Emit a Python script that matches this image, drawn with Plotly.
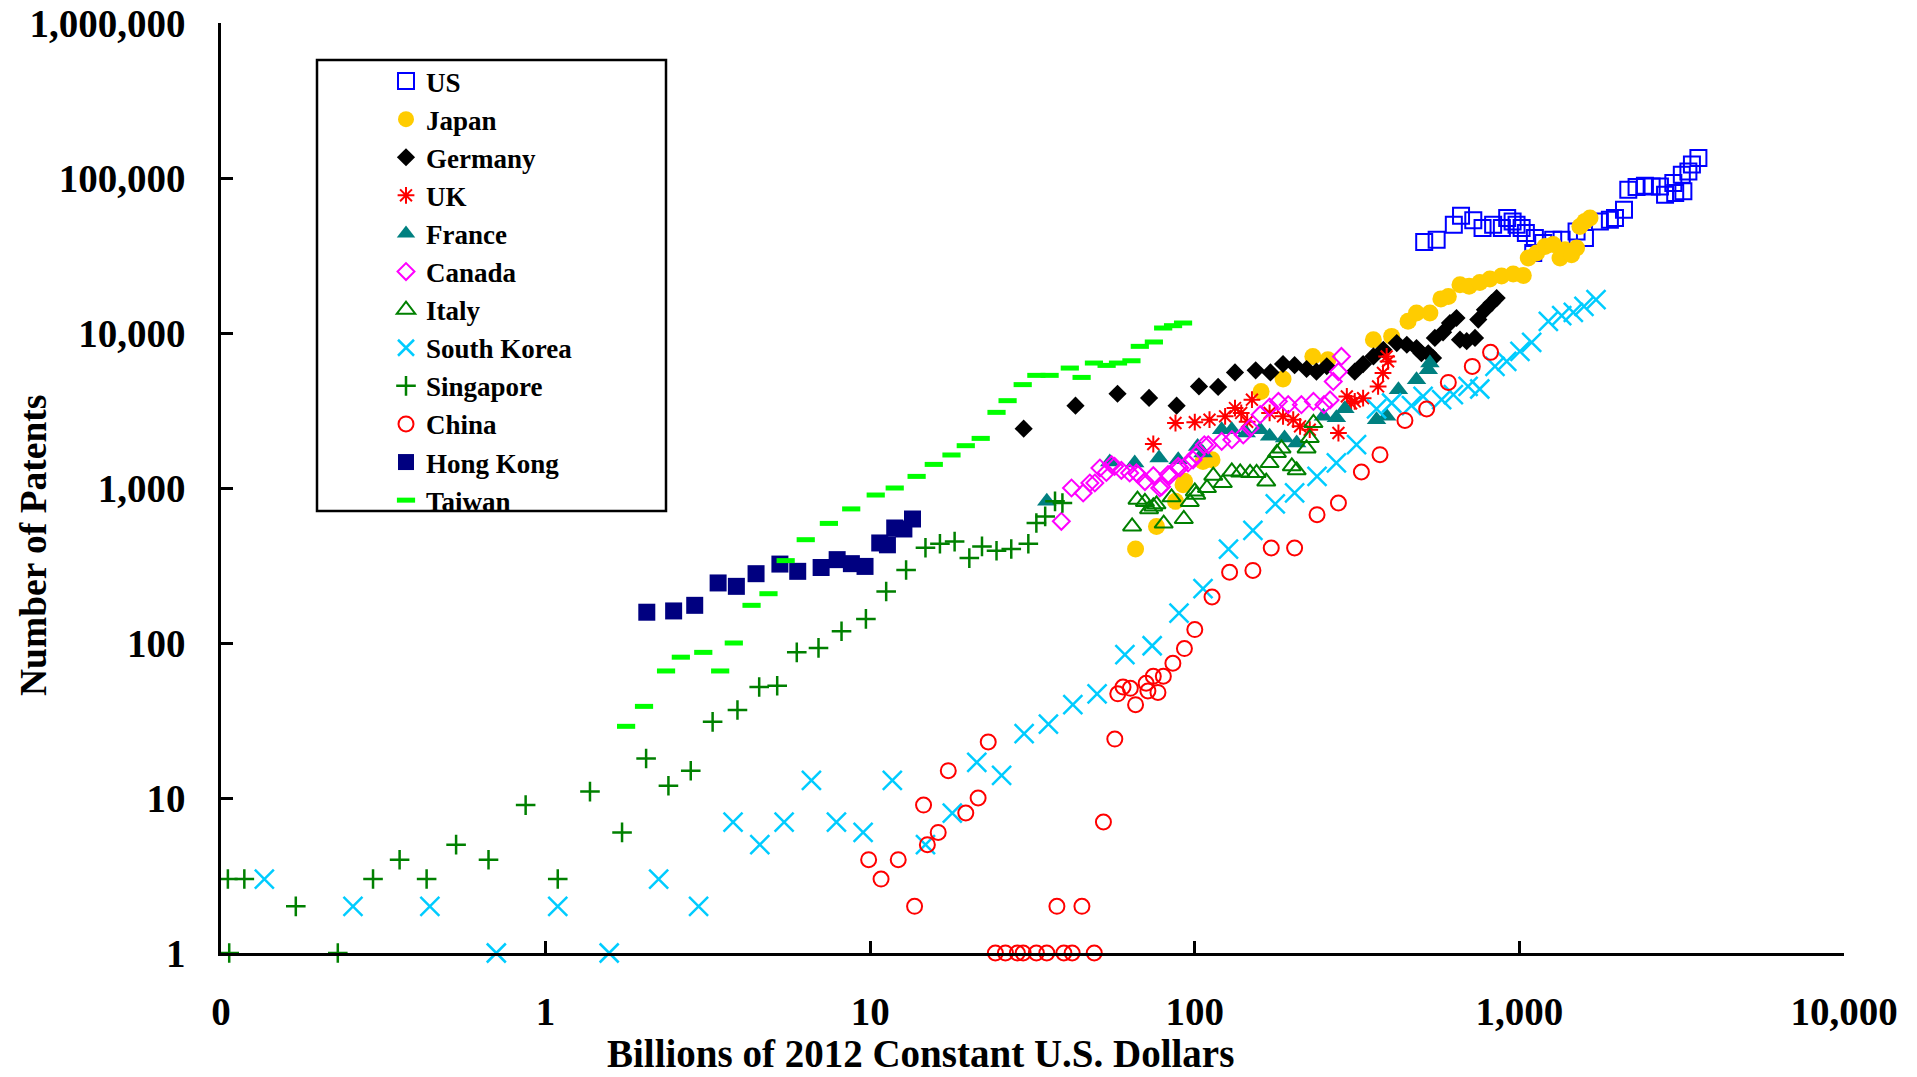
import plotly.graph_objects as go

# GDP (billions of 2012 constant U.S. dollars) and patent counts per economy
us_gdp = [509, 556, 628, 661, 721, 770, 830, 883, 917, 953, 980, 1016, 1047, 1103, 1116, 1184,
          1271, 1349, 1500, 1592, 1770, 1900, 1970, 2100, 2165, 2296, 2436, 2555, 2710, 2810,
          2980, 3020, 3200, 3165, 3316, 3400, 3560]
us_pat = [38650, 40000, 50000, 57100, 53300, 47600, 50000, 47600, 55200, 52500, 50000, 47600,
          44200, 32800, 41000, 38100, 40000, 40000, 45200, 41000, 52500, 53800, 55200, 62400,
          84100, 87500, 89200, 88000, 88000, 78000, 93000, 80000, 82000, 105000, 110000,
          122000, 134600]

japan_gdp = [65.7, 76.2, 87.2, 92, 93, 106, 113, 160, 187, 231, 257, 355, 404, 454, 482, 530,
             573, 604, 656, 700, 755, 811, 881, 957, 1028, 1065, 1130, 1199, 1271, 1334, 1381,
             1448, 1500, 1536, 1592, 1650]
japan_pat = [404, 565, 820, 1050, 1104, 1485, 1523, 4200, 5050, 7060, 6730, 9060, 9510, 11900,
             13450, 13450, 16600, 17200, 20500, 20000, 21200, 22300, 23300, 24000, 23500, 30500,
             32800, 36200, 37300, 30500, 34500, 32000, 35300, 48700, 52500, 55200]

germany_gdp = [29.7, 42.9, 57.8, 72.3, 87.9, 103, 118, 133, 154, 171, 187, 203, 221, 237, 255,
               311, 330, 355, 381, 419, 450, 482, 499, 524, 542, 549, 582, 611, 640, 656, 688,
               730, 747, 783, 821, 851]
germany_pat = [2415, 3395, 4056, 3810, 3395, 4520, 4490, 5570, 5740, 5570, 6310, 6200, 5860,
               5630, 6100, 5630, 6300, 7060, 7800, 8610, 8400, 8000, 7400, 7400, 6900, 9290,
               10100, 11600, 12500, 9060, 8860, 9290, 12200, 14100, 15600, 16800]

uk_gdp = [74.5, 87.2, 100, 111, 124, 133, 139, 145, 150, 170, 187, 201, 211, 226, 277, 294, 303,
          311, 330, 367, 380, 390, 394]
uk_pat = [1923, 2626, 2660, 2760, 2900, 3280, 3050, 2675, 3715, 3050, 2900, 2760, 2500, 2377,
          2263, 3900, 3520, 3620, 3800, 4520, 5520, 7060, 6560]

france_gdp = [35, 54.7, 65.3, 77.6, 88.9, 102, 106, 121, 130, 144, 159, 170, 189, 206, 249, 273,
              290, 363, 390, 424, 482, 524, 530]
france_pat = [820, 1470, 1450, 1560, 1520, 1855, 1683, 2377, 2377, 2263, 2377, 2160, 2100, 1950,
              2900, 2840, 3240, 2760, 2900, 4300, 5000, 5800, 6400]

canada_gdp = [38.8, 41.7, 45.3, 47.5, 49.2, 51, 53.4, 55.4, 56.6, 59.4, 63, 66.1, 66.9, 70.2,
              74.5, 78, 79, 82.7, 83.7, 88.9, 89.9, 95.3, 98.8, 101, 107, 110, 121, 130, 141,
              148, 159, 170, 181, 194, 213, 232, 250, 261, 267, 277, 283]
canada_pat = [610, 1000, 929, 1077, 1077, 1346, 1260, 1413, 1380, 1300, 1250, 1250, 1220, 1100,
              1200, 1000, 1020, 1220, 1200, 1380, 1350, 1450, 1520, 1640, 1900, 1900, 2000,
              2050, 2200, 2440, 2970, 3330, 3620, 3450, 3450, 3620, 3450, 3700, 4870, 5630, 7060]

italy_gdp = [64.1, 66.6, 70.2, 72.3, 74.5, 76.2, 80.2, 84.8, 92.5, 96.5, 100, 101, 109, 114,
             122, 130, 138, 148, 155, 166, 170, 179, 185, 199, 206, 221, 226, 232]
italy_pat = [565, 841, 813, 730, 760, 785, 590, 870, 631, 813, 950, 905, 1000, 1200, 1077, 1280,
             1260, 1250, 1250, 1100, 1450, 1683, 1800, 1380, 1300, 1800, 2100, 2626]

korea_gdp = [0.136, 0.255, 0.44, 0.705, 1.09, 1.57, 2.23, 2.96, 3.78, 4.57, 5.43, 6.59, 7.87,
             9.51, 11.7, 14.8, 17.9, 21.3, 25.4, 29.8, 35.4, 42.1, 50, 60.9, 73.9, 89.4, 106,
             127, 151, 177, 203, 238, 273, 315, 363, 404, 465, 505, 576, 626, 695, 755, 841,
             914, 1004, 1091, 1228, 1350, 1466, 1581, 1722]
korea_pat = [3, 2, 2, 1, 2, 1, 3, 2, 7, 5, 7, 13, 7, 6, 13, 5, 8, 17, 14, 26, 30, 40, 47, 84,
             96, 156, 224, 404, 532, 789, 929, 1188, 1450, 1902, 3235, 3535, 3395, 3900, 3716,
             4000, 4530, 4352, 6085, 6560, 7610, 8700, 11900, 12940, 13590, 14850, 16400]

singapore_gdp = [0.105, 0.118, 0.106, 0.17, 0.229, 0.294, 0.355, 0.43, 0.53, 0.667, 0.868, 1.09,
                 1.37, 1.72, 2.04, 2.39, 2.8, 3.27, 3.9, 4.55, 5.17, 5.94, 6.93, 8.16, 9.7, 11.2,
                 12.9, 14.8, 16.4, 18.2, 20.2, 22.1, 24.5, 27.2, 30.7, 32.5, 34.6, 37.1, 39.1]
singapore_pat = [3, 3, 1, 2, 1, 3, 4, 3, 5, 4, 9, 3, 11, 6, 18, 12, 15, 31, 37, 52, 53, 87, 93,
                 119, 143, 215, 296, 412, 437, 451, 353, 420, 394, 404, 437, 595, 656, 820, 800]

china_gdp = [9.89, 10.8, 12.2, 13.7, 14.6, 15.0, 16.2, 17.4, 19.7, 21.5, 23.1, 24.3, 26.1, 28.4,
             29.6, 32.5, 35.0, 37.6, 39.5, 41.9, 44.9, 49.0, 52.3, 56.7, 57.9, 60.1, 63.3, 65.7,
             70.8, 71.7, 74.5, 77, 80, 85.6, 92.9, 100, 113, 128, 151, 172, 203, 238, 277, 326,
             372, 444, 518, 604, 716, 815]
china_pat = [4, 3, 4, 2, 9, 5, 6, 15, 8, 10, 23, 1, 1, 1, 1, 1, 1, 2, 1, 1, 2, 1, 7, 24, 47, 52,
             51, 40, 55, 49, 61, 48, 61, 74, 92, 122, 198, 286, 294, 410, 410, 673, 800, 1268,
             1640, 2730, 3235, 4800, 6090, 7500]

hongkong_gdp = [2.05, 2.48, 2.88, 3.4, 3.87, 4.45, 5.27, 5.98, 7.06, 7.91, 8.75, 9.64, 10.7,
                11.3, 11.9, 12.7, 13.5]
hongkong_pat = [158, 161, 175, 244, 232, 280, 323, 290, 307, 345, 325, 312, 442, 430, 552, 544,
                631]

taiwan_gdp = [1.77, 2.01, 2.35, 2.61, 3.06, 3.45, 3.8, 4.31, 4.86, 5.49, 6.33, 7.46, 8.74, 10.4,
              11.9, 13.9, 15.7, 17.8, 19.7, 21.9, 24.5, 26.5, 29.5, 32.5, 35.7, 41.2, 44.8, 48.9,
              53.5, 58, 63.8, 67.7, 74.8, 79.9, 85.7, 92]
taiwan_pat = [29, 39, 66, 81, 87, 66, 100, 175, 208, 340, 464, 591, 733, 901, 1000, 1188, 1420,
              1633, 1875, 2090, 3076, 3660, 4645, 5330, 5330, 5940, 5170, 6400, 6180, 6400, 6620,
              8200, 8750, 10770, 11150, 11600]

x_tickvals = [0.1, 1, 10, 100, 1000, 10000]
x_ticktext = ["0", "1", "10", "100", "1,000", "10,000"]
y_tickvals = [1, 10, 100, 1000, 10000, 100000, 1000000]
y_ticktext = ["1", "10", "100", "1,000", "10,000", "100,000", "1,000,000"]

FONT = "Liberation Serif"

# (name, x, y, symbol, size, colour, line width) in drawing order
series = [
    ("US", us_gdp, us_pat, "square-open", 16, "#0000FF", 2),
    ("Japan", japan_gdp, japan_pat, "circle", 17, "#FFCC00", 0),
    ("Germany", germany_gdp, germany_pat, "diamond", 14, "#000000", 0),
    ("UK", uk_gdp, uk_pat, "asterisk-open", 14, "#FF0000", 2),
    ("France", france_gdp, france_pat, "triangle-up", 17, "#008080", 0),
    ("Canada", canada_gdp, canada_pat, "diamond-open", 13, "#FF00FF", 2),
    ("Italy", italy_gdp, italy_pat, "triangle-up-open", 16, "#008000", 2),
    ("South Korea", korea_gdp, korea_pat, "x-thin-open", 19, "#00CCFF", 2.5),
    ("Singapore", singapore_gdp, singapore_pat, "cross-thin-open", 14, "#008000", 2.5),
    ("China", china_gdp, china_pat, "circle-open", 15, "#FF0000", 2),
    ("Hong Kong", hongkong_gdp, hongkong_pat, "square", 17, "#000080", 0),
    ("Taiwan", taiwan_gdp, taiwan_pat, "line-ew-open", 13, "#00FF00", 5),
]

fig = go.Figure()
for name, xs, ys, sym, size, color, lw in series:
    marker = dict(symbol=sym, size=size, color=color)
    marker["line"] = dict(width=lw, color=color)
    fig.add_trace(go.Scatter(x=xs, y=ys, mode="markers", name=name, marker=marker,
                             cliponaxis=False))

W, H = 1917, 1077
L, R, T, B = 221, 73, 23, 124
pw, ph = W - L - R, H - T - B


def px_x(p):
    return (p - L) / pw


def px_y(p):
    return (H - B - p) / ph


axis_common = dict(
    type="log", showgrid=False, zeroline=False, showline=True, linecolor="black",
    linewidth=2.5, ticks="inside", ticklen=12, tickwidth=2.5, tickcolor="black",
    automargin=False,
    tickfont=dict(family=FONT, size=39, color="black", weight="bold"),
)

fig.update_layout(
    width=W, height=H,
    margin=dict(l=L, r=R, t=T, b=B, pad=0, autoexpand=False),
    paper_bgcolor="white", plot_bgcolor="white",
    xaxis=dict(range=[-1, 4], tickvals=x_tickvals, ticktext=x_ticktext,
               ticklabelstandoff=22, **axis_common),
    yaxis=dict(range=[0, 6], tickvals=y_tickvals, ticktext=y_ticktext,
               ticklabelstandoff=25, **axis_common),
    showlegend=True,
    legend=dict(x=px_x(386), y=px_y(57), xanchor="left", yanchor="top",
                bgcolor="rgba(0,0,0,0)", borderwidth=0,
                font=dict(family=FONT, size=27, color="black", weight="bold"),
                tracegroupgap=0, itemsizing="trace"),
    shapes=[dict(type="rect", xref="paper", yref="paper",
                 x0=px_x(317), x1=px_x(666), y0=px_y(511), y1=px_y(60),
                 line=dict(color="black", width=2.5), fillcolor="white", layer="below")],
    annotations=[
        dict(text="Billions of 2012 Constant U.S. Dollars", xref="paper", yref="paper",
             x=px_x(920), y=px_y(1053), xanchor="center", yanchor="middle", showarrow=False,
             font=dict(family=FONT, size=39, color="black", weight="bold")),
        dict(text="Number of Patents", xref="paper", yref="paper", textangle=-90,
             x=px_x(33), y=px_y(546), xanchor="center", yanchor="middle", showarrow=False,
             font=dict(family=FONT, size=37.5, color="black", weight="bold")),
    ],
)

fig.write_html("out.html")
